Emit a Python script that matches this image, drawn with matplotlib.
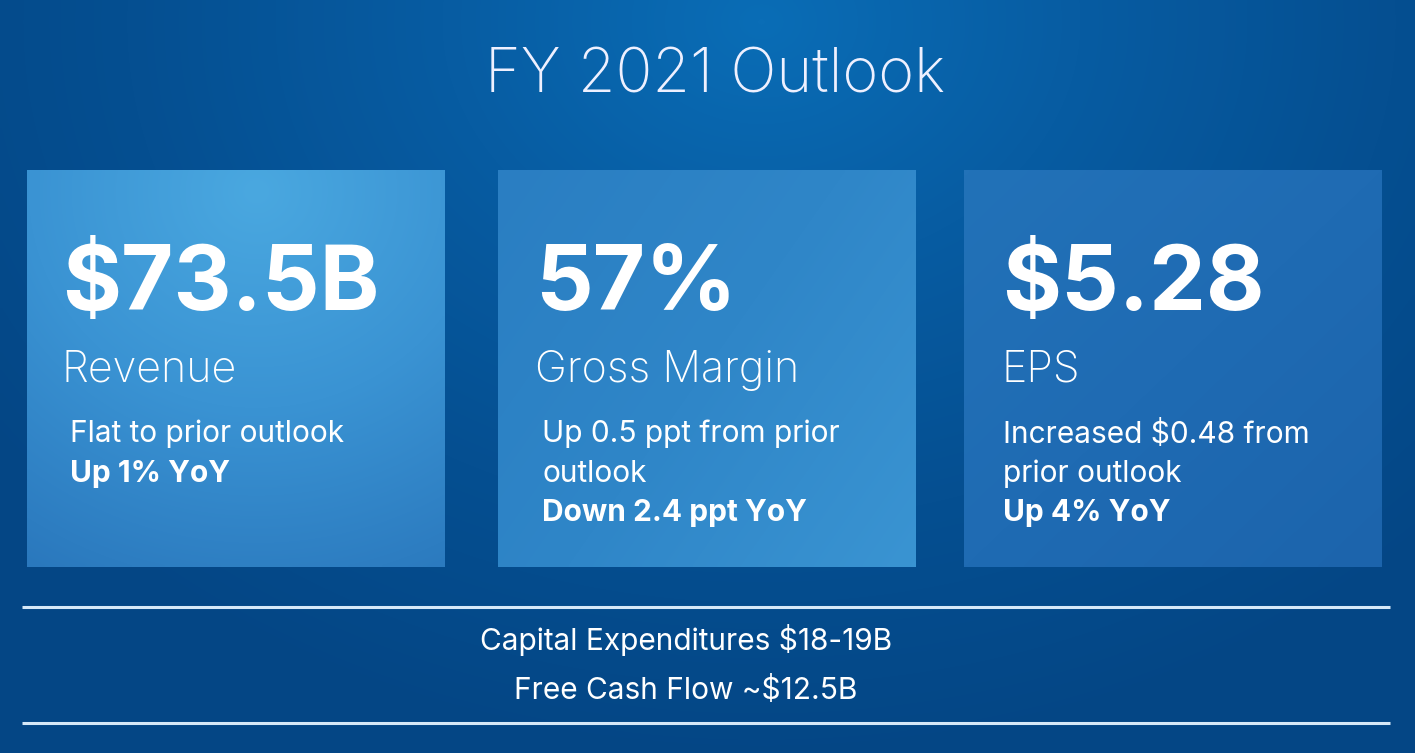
import numpy as np
import matplotlib
matplotlib.use("Agg")
import matplotlib.pyplot as plt
from matplotlib.colors import LinearSegmentedColormap

# ---- data ----
title = "FY 2021 Outlook"
headline_values = ["$73.5B", "57%", "$5.28"]
metric_names = ["Revenue", "Gross Margin", "EPS"]
note_lines = [
    ["Flat to prior outlook"],
    ["Up 0.5 ppt from prior", "outlook"],
    ["Increased $0.48 from", "prior outlook"],
]
bold_notes = ["Up 1% YoY", "Down 2.4 ppt YoY", "Up 4% YoY"]
footer_lines = ["Capital Expenditures $18-19B", "Free Cash Flow ~$12.5B"]

W, H = 1415, 753
fig = plt.figure(figsize=(W / 100, H / 100), dpi=100)
ax = fig.add_axes([0, 0, 1, 1])
ax.set_xlim(0, W)
ax.set_ylim(H, 0)
ax.axis("off")

# background gradient
yy, xx = np.mgrid[0:H:4, 0:W:4]
d = np.sqrt(((xx - 760) / 950.0) ** 2 + ((yy - 20) / 750.0) ** 2)
d = np.clip(d, 0, 1)
bg_cmap = LinearSegmentedColormap.from_list("bg", ["#0a6db6", "#075ca2", "#054f91", "#044685"])
ax.imshow(d, cmap=bg_cmap, extent=[0, W, H, 0], aspect="auto", zorder=0, interpolation="bilinear")

# boxes
box_x = [27, 498, 964]
box_w = 418
box_top, box_bot = 170, 567
box_colors = [
    ["#4aa8e0", "#3a93d3", "#2a78bd"],
    ["#2a7ec2", "#2f86c8", "#3a94d2"],
    ["#2272b8", "#1f6bb3", "#1c64ac"],
]
for i, bx in enumerate(box_x):
    gy, gx = np.mgrid[0:100, 0:100] / 99.0
    if i == 0:
        g = np.clip(np.sqrt((gx - 0.55) ** 2 + (gy - 0.05) ** 2) / 1.1, 0, 1)
    elif i == 1:
        g = np.clip((gx * 0.6 + gy * 0.4), 0, 1)
    else:
        g = np.clip(gx * 0.5 + gy * 0.5, 0, 1)
    cm = LinearSegmentedColormap.from_list("b%d" % i, box_colors[i])
    ax.imshow(g, cmap=cm, extent=[bx, bx + box_w, box_bot, box_top], aspect="auto",
              zorder=1, interpolation="bilinear", vmin=0, vmax=1)

FONT = ["Inter", "DejaVu Sans"]

# title
ax.text(715, 76, title, color="#eef0ff", fontsize=44, ha="center", va="center",
        family=FONT, fontweight="light", zorder=3)

text_x = [62, 535, 1002]
note_x = [70, 542, 1003]
for i in range(3):
    ax.text(text_x[i], 286, headline_values[i], color="white", fontsize=65,
            fontweight="bold", family=FONT, ha="left", va="center", zorder=3)
    ax.text(text_x[i], 370, metric_names[i], color="white", fontsize=31,
            fontweight="light", family=FONT, ha="left", va="center", zorder=3)
    y = 434
    for line in note_lines[i]:
        ax.text(note_x[i], y, line, color="white", fontsize=21.5, fontweight="normal",
                family=FONT, ha="left", va="center", zorder=3)
        y += 39.5
    ax.text(note_x[i], y, bold_notes[i], color="white", fontsize=21.5, fontweight="bold",
            family=FONT, ha="left", va="center", zorder=3)

# footer lines
for ly in [607, 723]:
    ax.plot([22, 1390], [ly, ly], color="#d6e8f8", lw=2.2, zorder=3, solid_capstyle="butt")

for j, line in enumerate(footer_lines):
    ax.text(686, 640 + j * 50, line, color="white", fontsize=21.5, family=FONT,
            ha="center", va="center", zorder=3)

fig.savefig("out.png", dpi=100)
